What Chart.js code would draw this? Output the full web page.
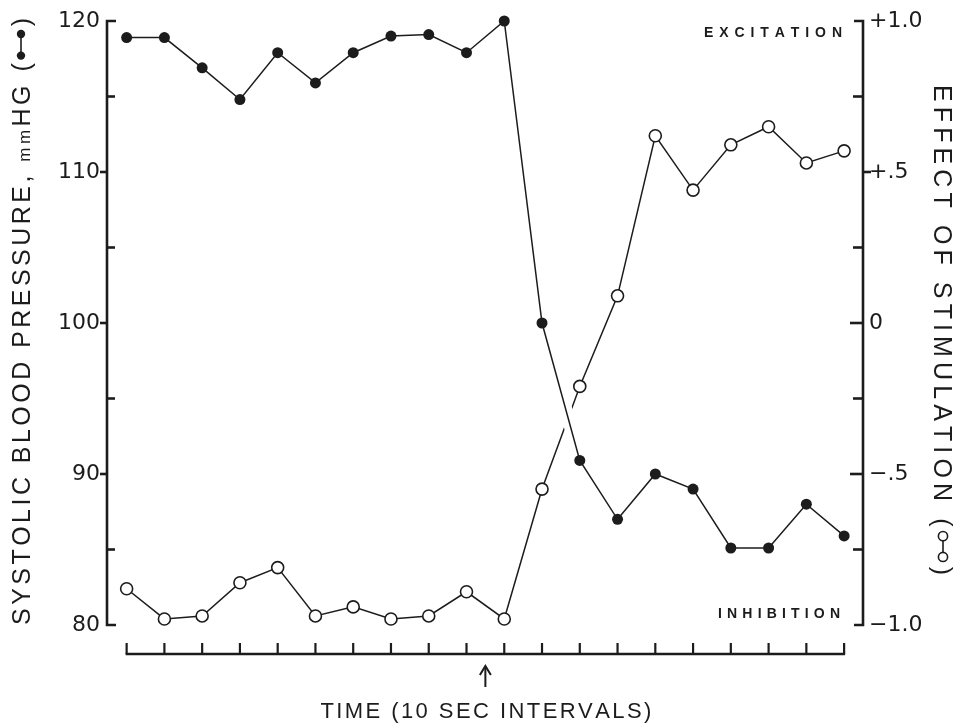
<!DOCTYPE html>
<html>
<head>
<meta charset="utf-8">
<title>Systolic blood pressure and effect of stimulation</title>
<script src="https://cdn.jsdelivr.net/npm/chart.js@4.4.1/dist/chart.umd.min.js"></script>
<style>
  html, body { margin: 0; padding: 0; background: #fff; }
  #wrap { position: relative; width: 966px; height: 726px; }
</style>
</head>
<body>
<div id="wrap"><canvas id="chart"></canvas></div>
<script>
// Successive 10-second intervals
const intervals = [1, 2, 3, 4, 5, 6, 7, 8, 9, 10, 11, 12, 13, 14, 15, 16, 17, 18, 19, 20];
// Stimulation onset falls between interval 10 and 11
const stimulusAt = 10.5;
// Systolic blood pressure, mmHg (filled circles, left axis)
const systolic = [118.9, 118.9, 116.9, 114.8, 117.9, 115.9, 117.9, 119.0, 119.1, 117.9,
                  120.0, 100.0, 90.9, 87.0, 90.0, 89.0, 85.1, 85.1, 88.0, 85.9];
// Effect of stimulation (open circles, right axis): +1 excitation, -1 inhibition
const stimEffect = [-0.88, -0.98, -0.97, -0.86, -0.81, -0.97, -0.94, -0.98, -0.97, -0.89,
                    -0.98, -0.55, -0.21, 0.09, 0.62, 0.44, 0.59, 0.65, 0.53, 0.57];
// Axis ticks
const pressureTicks = [80, 90, 100, 110, 120];
const effectTicks = [-1, -0.5, 0, 0.5, 1];
const effectTickLabels = ['\u22121.0', '\u2212.5', '0', '+.5', '+1.0'];

const INK = '#1c1c1c';
const SANS = '"Liberation Sans", Arial, Helvetica, sans-serif';
const NUM_FONT = { family: '"DejaVu Sans", sans-serif', size: 22 };

const toPoints = vals => intervals.map((t, i) => ({ x: t, y: vals[i] }));

// Draws a run of glyphs/symbols spread evenly over a given length
function spacedRun(ctx, items, x0, target) {
  let natural = 0;
  items.forEach(it => { natural += it.w; });
  const gap = items.length > 1 ? (target - natural) / (items.length - 1) : 0;
  let x = x0;
  items.forEach(it => { it.draw(x); x += it.w + gap; });
}
function charItems(ctx, text, font) {
  return Array.from(text).map(ch => {
    ctx.font = font;
    const w = ctx.measureText(ch).width;
    return { w, draw: x => { ctx.font = font; ctx.fillText(ch, x, 0); } };
  });
}
function symbolItem(ctx, filled, w, midY) {
  return {
    w,
    draw: x => {
      const r = filled ? 4.2 : 4.6;
      ctx.save();
      ctx.lineWidth = 1.6;
      ctx.strokeStyle = INK;
      ctx.beginPath();
      ctx.moveTo(x + r, midY); ctx.lineTo(x + w - r, midY); ctx.stroke();
      [x + r, x + w - r].forEach(cx => {
        ctx.beginPath();
        ctx.arc(cx, midY, r, 0, Math.PI * 2);
        if (filled) { ctx.fillStyle = INK; ctx.fill(); }
        else { ctx.fillStyle = '#fff'; ctx.fill(); ctx.stroke(); }
      });
      ctx.restore();
    }
  };
}

// Axis brackets, tick marks, time base, stimulus arrow and lettering
const framePlugin = {
  id: 'frame',
  afterDraw(chart) {
    const { ctx, chartArea: a, scales: { x, y, y1 } } = chart;
    const L = a.left, R = a.right, T = a.top, B = a.bottom;
    const seg = (xa, ya, xb, yb) => { ctx.beginPath(); ctx.moveTo(xa, ya); ctx.lineTo(xb, yb); ctx.stroke(); };
    ctx.save();
    ctx.strokeStyle = INK;
    ctx.fillStyle = INK;
    ctx.lineCap = 'butt';
    ctx.lineJoin = 'miter';

    // Left axis: bracket, outward major ticks, inward minor ticks
    ctx.lineWidth = 2.6;
    ctx.beginPath(); ctx.moveTo(L + 9, T); ctx.lineTo(L, T); ctx.lineTo(L, B); ctx.lineTo(L + 9, B); ctx.stroke();
    pressureTicks.forEach((v, i) => {
      const py = y.getPixelForValue(v);
      if (i > 0 && i < pressureTicks.length - 1) seg(L - 7, py, L, py);
      if (i > 0) {
        const my = y.getPixelForValue((v + pressureTicks[i - 1]) / 2);
        seg(L, my, L + 8, my);
      }
    });

    // Right axis: bracket and ticks
    ctx.beginPath(); ctx.moveTo(R - 9, T); ctx.lineTo(R, T); ctx.lineTo(R, B); ctx.lineTo(R - 9, B); ctx.stroke();
    effectTicks.forEach((v, i) => {
      const py = y1.getPixelForValue(v);
      if (i > 0 && i < effectTicks.length - 1) {
        if (v > 0) seg(R, py, R + 8, py); else seg(R - 13, py, R, py);
      }
      if (i > 0) {
        const my = y1.getPixelForValue((v + effectTicks[i - 1]) / 2);
        seg(R - 10, my, R, my);
      }
    });

    // Time base with a tick at every interval
    const ty = 654;
    const xs = intervals.map(t => x.getPixelForValue(t));
    ctx.lineWidth = 2.6;
    seg(xs[0] - 1, ty, xs[xs.length - 1] + 1, ty);
    ctx.lineWidth = 2.2;
    xs.forEach(px => seg(px, ty, px, ty - 11));

    // Stimulus arrow
    const ax = x.getPixelForValue(stimulusAt);
    ctx.lineWidth = 2;
    seg(ax, 667, ax, 687);
    ctx.beginPath(); ctx.moveTo(ax - 5.5, 675); ctx.lineTo(ax, 666); ctx.lineTo(ax + 5.5, 675); ctx.stroke();

    ctx.textBaseline = 'alphabetic';
    ctx.textAlign = 'left';

    // Time axis title
    ctx.save();
    ctx.translate(0, 718);
    spacedRun(ctx, charItems(ctx, 'TIME (10 SEC INTERVALS)', '22px ' + SANS), ax - 165, 331);
    ctx.restore();

    // Excitation / inhibition markers
    ctx.save();
    ctx.translate(0, 36.5);
    spacedRun(ctx, charItems(ctx, 'EXCITATION', 'bold 14px ' + SANS), 704, 138);
    ctx.restore();
    ctx.save();
    ctx.translate(0, 618);
    spacedRun(ctx, charItems(ctx, 'INHIBITION', 'bold 14px ' + SANS), 718, 122);
    ctx.restore();

    // Left axis title, reading upward
    ctx.save();
    ctx.translate(30, B);
    ctx.rotate(-Math.PI / 2);
    const big = '25px ' + SANS;
    const leftItems = [].concat(
      charItems(ctx, 'SYSTOLIC BLOOD PRESSURE, ', big),
      charItems(ctx, 'mm', '17px ' + SANS),
      charItems(ctx, 'HG (', big),
      [symbolItem(ctx, true, 30, -9)],
      charItems(ctx, ')', big)
    );
    spacedRun(ctx, leftItems, 0, B - 18);
    ctx.restore();

    // Right axis title, reading downward
    ctx.save();
    ctx.translate(934, 85);
    ctx.rotate(Math.PI / 2);
    const rightItems = [].concat(
      charItems(ctx, 'EFFECT OF STIMULATION (', big),
      [symbolItem(ctx, false, 30, -9)],
      charItems(ctx, ')', big)
    );
    spacedRun(ctx, rightItems, 0, 490);
    ctx.restore();

    ctx.restore();
  }
};

new Chart(document.getElementById('chart'), {
  type: 'line',
  data: {
    datasets: [
      {
        label: 'Systolic blood pressure',
        data: toPoints(systolic),
        yAxisID: 'y',
        order: 0,
        clip: false,
        borderColor: INK,
        borderWidth: 1.5,
        pointRadius: 5.5,
        pointBackgroundColor: INK,
        pointBorderWidth: 0,
        tension: 0
      },
      {
        // white band under the pressure trace, breaking the crossing line
        label: 'crossing break',
        data: toPoints(systolic),
        yAxisID: 'y',
        order: 1,
        borderColor: '#ffffff',
        borderWidth: 13,
        pointRadius: 0,
        tension: 0
      },
      {
        label: 'Effect of stimulation',
        data: toPoints(stimEffect),
        yAxisID: 'y1',
        order: 2,
        clip: false,
        borderColor: INK,
        borderWidth: 1.5,
        pointRadius: 6,
        pointBackgroundColor: '#ffffff',
        pointBorderColor: INK,
        pointBorderWidth: 1.6,
        tension: 0
      }
    ]
  },
  options: {
    responsive: true,
    maintainAspectRatio: false,
    animation: false,
    events: [],
    layout: { padding: { top: 21, bottom: 101, left: 0, right: 0 } },
    plugins: { legend: { display: false }, tooltip: { enabled: false } },
    scales: {
      x: { type: 'linear', min: 0.48, max: 20.5, display: false },
      y: {
        position: 'left',
        min: 80, max: 120,
        afterBuildTicks: s => { s.ticks = pressureTicks.map(v => ({ value: v })); },
        ticks: { font: NUM_FONT, color: INK, padding: 7 },
        grid: { display: false, drawTicks: false },
        border: { display: false },
        afterFit: s => { s.width = 107; }
      },
      y1: {
        position: 'right',
        min: -1, max: 1,
        afterBuildTicks: s => { s.ticks = effectTicks.map(v => ({ value: v })); },
        ticks: {
          font: NUM_FONT, color: INK, padding: 6,
          callback: v => {
            const i = effectTicks.findIndex(t => Math.abs(t - v) < 1e-9);
            return i >= 0 ? effectTickLabels[i] : '';
          }
        },
        grid: { display: false, drawTicks: false },
        border: { display: false },
        afterFit: s => { s.width = 103; }
      }
    }
  },
  plugins: [framePlugin]
});
</script>
</body>
</html>
